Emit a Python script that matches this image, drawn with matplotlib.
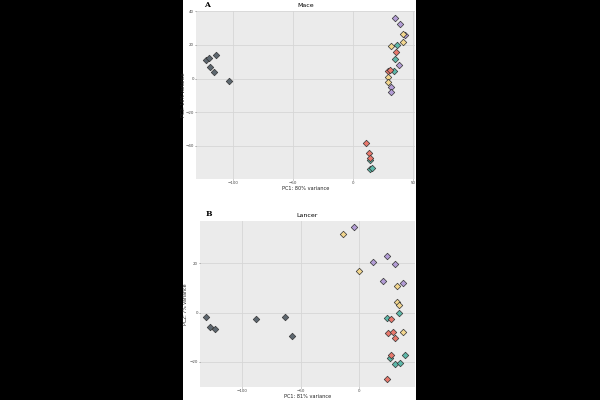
import matplotlib
matplotlib.use("Agg")
import matplotlib.pyplot as plt

groups = ["grey", "purple", "yellow", "teal", "red"]
colors = {"grey": "#5E6870", "purple": "#B39DD6", "yellow": "#F2D68E",
          "teal": "#5DB8A9", "red": "#E8786C"}

# Panel A (Mace)
mace_x = {
    "grey":   [-123, -120.3, -114.7, -119.7, -116.1, -103.9],
    "purple": [35, 39.4, 43.3, 37.8, 31.9, 31.1],
    "yellow": [41.1, 41.7, 31.7, 29.2, 29.2],
    "teal":   [36.4, 35, 33.6, 13.6, 15.8, 13.6],
    "red":    [35.6, 29.2, 30.8, 10.8, 13.3, 13.6],
}
mace_y = {
    "grey":   [10.9, 12.3, 13.9, 6.7, 3.8, -1.6],
    "purple": [35.8, 32.3, 25.7, 8.1, -4.8, -8.3],
    "yellow": [26.5, 21.8, 19.2, 0.8, -2.2],
    "teal":   [20, 11.3, 4.6, -54, -53.3, -48.3],
    "red":    [15.6, 4.4, 5.2, -38.2, -44, -47.5],
}

# Panel B (Lancer)
lancer_x = {
    "grey":   [-131.3, -127.6, -123.6, -88, -63.5, -57.5],
    "purple": [-4.6, 12, 23.4, 30.5, 20.5, 37],
    "yellow": [-14, 0, 31.9, 32.5, 34.2, 37],
    "teal":   [33.9, 23.6, 39.3, 25.9, 30.2, 35],
    "red":    [27.4, 24.2, 28.8, 30.5, 27.4, 23.6],
}
lancer_y = {
    "grey":   [-1.8, -5.7, -6.5, -2.4, -1.9, -9.4],
    "purple": [34.7, 20.7, 23.1, 19.8, 12.7, 12.1],
    "yellow": [31.9, 17, 10.7, 4.3, 3, -7.9],
    "teal":   [0, -2, -17.2, -18.4, -20.7, -20.6],
    "red":    [-2.7, -8.1, -7.7, -10.4, -17.1, -27.1],
}

fig = plt.figure(figsize=(6, 4), dpi=100, facecolor="black")
bg = fig.add_axes([183/600, 0, 233/600, 1])
bg.set_facecolor("white")
bg.set_xticks([]); bg.set_yticks([])
for s in bg.spines.values():
    s.set_visible(False)

def panel(rect, xs, ys, xlim, ylim, xticks, yticks, title, letter, xlabel, ylabel,
          ylab_x, xlab_y, title_y, let_xy):
    ax = fig.add_axes(rect)
    ax.set_facecolor("#EBEBEB")
    for s in ax.spines.values():
        s.set_visible(False)
    ax.set_axisbelow(True)
    ax.grid(True, color="#D6D6D6", linewidth=0.6)
    for g in groups:
        ax.scatter(xs[g], ys[g], marker="D", s=11, c=colors[g],
                   edgecolors="#333333", linewidths=0.5, zorder=3)
    ax.set_xlim(*xlim); ax.set_ylim(*ylim)
    ax.set_xticks(xticks); ax.set_yticks(yticks)
    ax.tick_params(labelsize=2.9, length=1.0, width=0.4, color="#555555",
                   labelcolor="#444444", pad=0.5)
    ax.set_xlabel(xlabel, fontsize=3.6, color="#222222")
    ax.set_ylabel(ylabel, fontsize=3.4, color="#222222")
    ax.yaxis.set_label_coords(ylab_x, 0.5)
    ax.xaxis.set_label_coords(0.5, xlab_y)
    ax.xaxis.label.set_va("center")
    ax.yaxis.label.set_va("center")
    ax.text(0.5, title_y, title, transform=ax.transAxes, fontsize=4.5,
            ha="center", va="center")
    ax.text(let_xy[0], let_xy[1], letter, transform=ax.transAxes, fontsize=5.5,
            fontweight="bold", family="DejaVu Serif", ha="center", va="center")
    return ax

panel([196/600, 1-179/400, 219/600, 168.5/400], mace_x, mace_y,
      (-131, 51.5), (-59.7, 40.4), [-100, -50, 0, 50], [-40, -20, 0, 20, 40],
      "Mace", "A", "PC1: 80% variance", "PC2: 16% variance",
      -0.055, -0.056, 1.027, (0.05, 1.033))
panel([200/600, 1-386.7/400, 215/600, 166/400], lancer_x, lancer_y,
      (-136.2, 47.6), (-30.1, 37.4), [-100, -50, 0], [-20, 0, 20],
      "Lancer", "B", "PC1: 81% variance", "PC2: 7% variance",
      -0.068, -0.058, 1.034, (0.042, 1.04))

fig.savefig("out.png", dpi=100, facecolor="black")
